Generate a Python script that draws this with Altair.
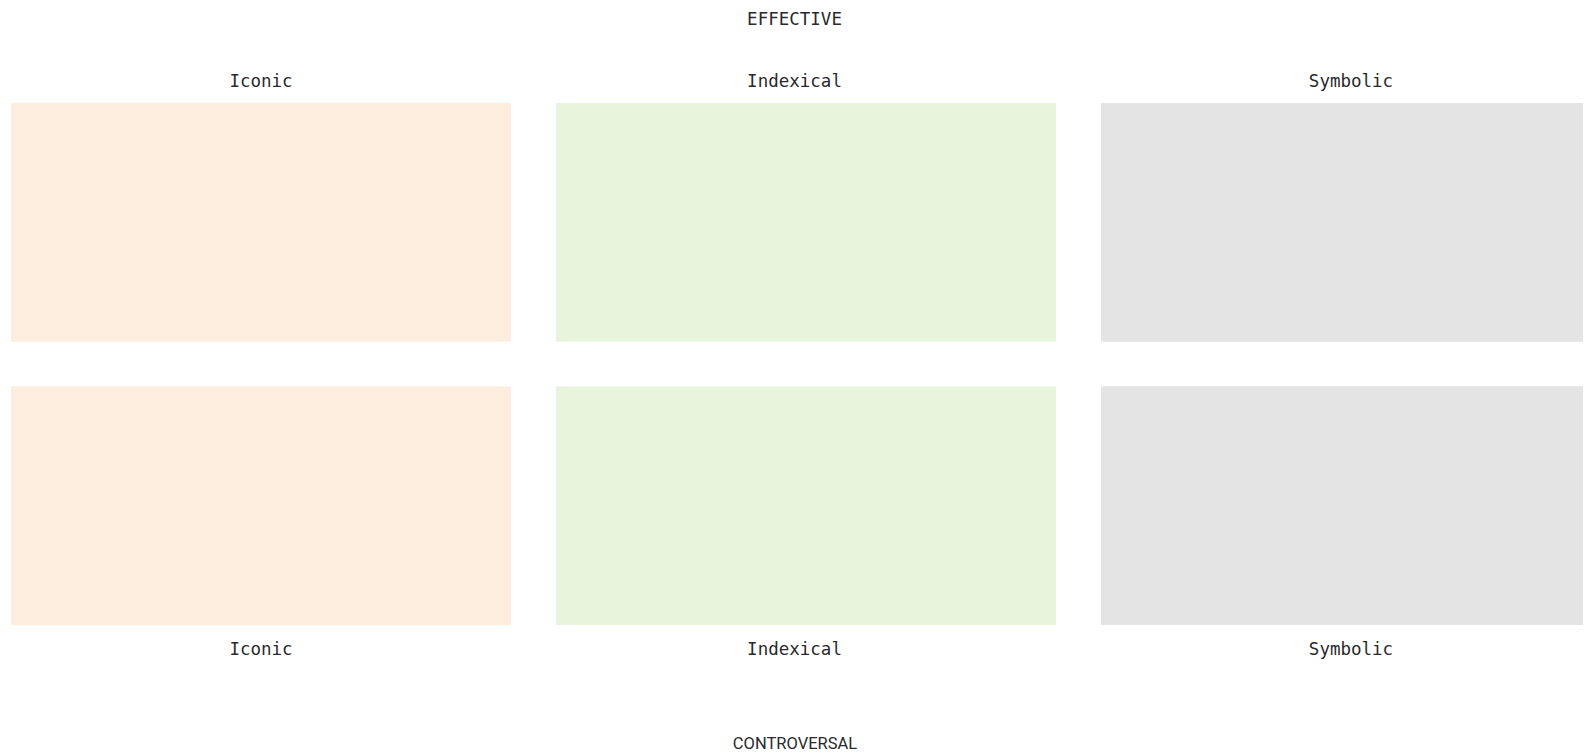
import altair as alt
import pandas as pd

columns = ["Iconic", "Indexical", "Symbolic"]
rows = ["EFFECTIVE", "CONTROVERSAL"]
colors = ["#FDEDDF", "#E8F5DC", "#E4E4E4"]

records = [{"col": c, "row": r} for r in rows for c in columns]
df = pd.DataFrame(records)

mono = "DejaVu Sans Mono"
text_color = "#2a2a2a"
offset_expr = "datum.value === 'Indexical' ? -11.5 : 0"

x_scale = alt.Scale(domain=columns, range=[0, 1590], paddingInner=0.08257, paddingOuter=0)
y_enc = alt.Y("row:N", sort=rows, axis=None,
              scale=alt.Scale(paddingInner=0.1587, paddingOuter=0))
color_enc = alt.Color("col:N", scale=alt.Scale(domain=columns, range=colors), legend=None)

top = alt.Chart(df).mark_rect().encode(
    x=alt.X("col:N", sort=columns, scale=x_scale,
            axis=alt.Axis(orient="top", title="EFFECTIVE", labelAngle=0,
                          ticks=False, tickSize=0, domain=False,
                          labelFont=mono, labelFontSize=17.5, labelColor=text_color,
                          labelBaseline="middle", labelPadding=22,
                          labelOffset=alt.expr(offset_expr),
                          titleFont=mono, titleFontSize=17.5, titleFontWeight="normal",
                          titleColor=text_color, titleX=783, titleY=-83.5,
                          titleBaseline="middle", titleAlign="center")),
    y=y_enc,
    color=color_enc,
)

bottom = alt.Chart(df).mark_rect().encode(
    x=alt.X("col:N", sort=columns,
            axis=alt.Axis(orient="bottom", title="CONTROVERSAL", labelAngle=0,
                          ticks=False, tickSize=0, domain=False,
                          labelFont=mono, labelFontSize=17.5, labelColor=text_color,
                          labelBaseline="middle", labelPadding=24,
                          labelOffset=alt.expr(offset_expr),
                          titleFont="Roboto", titleFontSize=16.5, titleFontWeight="normal",
                          titleColor=text_color, titleX=783.5, titleY=118,
                          titleBaseline="middle", titleAlign="center")),
    y=y_enc,
    color=color_enc,
)

chart = alt.layer(top, bottom).resolve_axis(x="independent").properties(
    width=1572, height=522,
    autosize=alt.AutoSizeParams(type="none"),
    padding={"left": 3, "top": 95, "right": 0, "bottom": 130},
).configure_view(stroke=None)

chart.save("out.html", embed_options={"renderer": "svg", "actions": False})
